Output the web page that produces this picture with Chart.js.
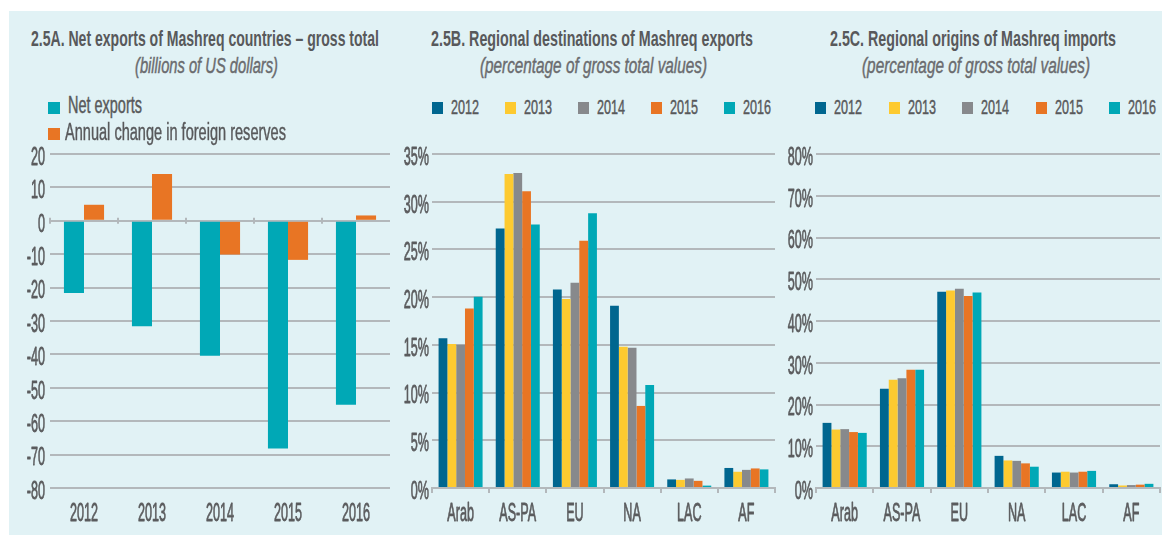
<!DOCTYPE html>
<html><head><meta charset="utf-8">
<script src="https://cdn.jsdelivr.net/npm/chart.js@4"></script>
<style>
html,body{margin:0;padding:0;background:#fff;width:1162px;height:535px;overflow:hidden;position:relative;}
#bg{position:absolute;left:9px;top:11px;width:1153px;height:524px;background:#e1f2f5;}
.t{position:absolute;white-space:nowrap;transform-origin:0 0;font-family:'Liberation Sans Narrow','Liberation Sans',sans-serif;color:#58595b;}
.t.reg{-webkit-text-stroke:0.45px currentColor;}
.sq{position:absolute;}
canvas{position:absolute;}
</style></head><body>
<div id="bg"></div>
<canvas id="ca" width="392" height="395" style="left:0;top:140px"></canvas>
<canvas id="cb" width="387" height="395" style="left:390px;top:140px"></canvas>
<canvas id="cc" width="387" height="395" style="left:775px;top:140px"></canvas>
<script>
// ---------- DATA ----------
const titleA = '2.5A. Net exports of Mashreq countries – gross total';
const subtitleA = '(billions of US dollars)';
const titleB = '2.5B. Regional destinations of Mashreq exports';
const subtitleB = '(percentage of gross total values)';
const titleC = '2.5C. Regional origins of Mashreq imports';
const subtitleC = '(percentage of gross total values)';

const yearsA = ['2012','2013','2014','2015','2016'];
const seriesNamesA = ['Net exports','Annual change in foreign reserves'];
const netExports = [-21.6,-31.6,-40.4,-68.2,-55.1];
const reserveChange = [4.8,14.0,-10.1,-11.7,1.6];
const ticksA = {min:-80, max:20, step:10};

const regions = ['Arab','AS-PA','EU','NA','LAC','AF'];
const seriesYears = ['2012','2013','2014','2015','2016'];

const exp2012 = [15.7,27.2,20.8,19.1,0.9,2.1];
const exp2013 = [15.1,32.9,19.8,14.8,0.85,1.7];
const exp2014 = [15.0,33.0,21.5,14.7,1.0,1.9];
const exp2015 = [18.8,31.1,25.9,8.6,0.75,2.05];
const exp2016 = [20.05,27.6,28.8,10.8,0.25,1.95];
const ticksB = {min:0, max:35, step:5};

const imp2012 = [15.6,23.8,47.0,7.7,3.7,0.9];
const imp2013 = [14.0,25.9,47.3,6.6,3.9,0.6];
const imp2014 = [14.1,26.3,47.7,6.5,3.7,0.7];
const imp2015 = [13.4,28.3,46.0,5.9,3.9,0.8];
const imp2016 = [13.2,28.3,46.8,5.1,4.1,1.0];
const ticksC = {min:0, max:80, step:10};

// ---------- STYLE ----------
const yearColors = ['#00668f','#fdca30','#87898c','#e87524','#00a8b6'];
const colorsA = ['#00a8b6','#e87524'];
const gridColor = '#b3b8bb';
const tickColor = '#5b5c5e';
const FONT = "'Liberation Sans Narrow','Liberation Sans',sans-serif";

// ---------- HTML TEXT ----------
function addText(txt, left, baseline, width, size, o){
  o = o || {};
  const el = document.createElement('div');
  el.className = 't' + (o.bold ? '' : ' reg'); el.textContent = txt;
  el.style.fontSize = size+'px'; el.style.lineHeight = size+'px';
  el.style.left = left+'px'; el.style.top = (baseline - 0.8465*size)+'px';
  if (o.bold) el.style.fontWeight = 'bold';
  if (o.italic) el.style.fontStyle = 'italic';
  if (o.color) el.style.color = o.color;
  document.body.appendChild(el);
  const nat = el.getBoundingClientRect().width;
  el.style.transform = 'scaleX(' + (width/nat) + ')';
}
function addSquare(left, top, w, h, color){
  const s = document.createElement('div'); s.className='sq';
  s.style.left=left+'px'; s.style.top=top+'px'; s.style.width=w+'px'; s.style.height=h+'px';
  s.style.background=color; document.body.appendChild(s);
}
addText(titleA, 31, 47, 348, 22, {bold:true});
addText(subtitleA, 135, 74, 143, 22, {italic:true, color:'#6a6b6e'});
addText(titleB, 431, 47, 322, 22, {bold:true});
addText(subtitleB, 480, 74, 227, 22, {italic:true, color:'#6a6b6e'});
addText(titleC, 830, 47, 286, 22, {bold:true});
addText(subtitleC, 862, 74, 228, 22, {italic:true, color:'#6a6b6e'});

addSquare(48, 102, 12, 12, colorsA[0]);
addText(seriesNamesA[0], 68, 113, 74, 23);
addSquare(48, 128, 12, 12, colorsA[1]);
addText(seriesNamesA[1], 65, 140, 221, 23);

seriesYears.forEach((y,i)=>{
  const xb = 432 + i*73.1, xc = 815 + i*73.5;
  addSquare(xb, 102, 11, 12, yearColors[i]);
  addText(y, xb+19, 114, 28, 20.5);
  addSquare(xc, 102, 11, 12, yearColors[i]);
  addText(y, xc+19, 114, 28, 20.5);
});

// ---------- CHART HELPERS ----------
const TICK_SIZE = 25;
const mc = document.createElement('canvas').getContext('2d');
mc.font = TICK_SIZE + 'px ' + FONT;
const SX = 28 / mc.measureText('2012').width;

const condense = {
  id:'condense',
  beforeDraw(chart){
    const ctx = chart.ctx;
    if (ctx.__cond) return;
    const orig = ctx.fillText;
    ctx.fillText = function(t, x, y, mw){
      this.save(); this.translate(x, y); this.scale(SX, 1);
      this.lineWidth = 0.8; this.strokeStyle = this.fillStyle; this.lineJoin = 'round';
      if (mw === undefined || mw === null) { orig.call(this, t, 0, 0); this.strokeText(t, 0, 0); }
      else { orig.call(this, t, 0, 0, mw/SX); this.strokeText(t, 0, 0, mw/SX); }
      this.restore();
    };
    ctx.__cond = true;
  }
};

const zeroTicks = {
  id:'zeroTicks',
  afterDatasetsDraw(chart){
    const xs = chart.scales.x, ys = chart.scales.y, ctx = chart.ctx;
    const step = xs.getPixelForValue(1) - xs.getPixelForValue(0);
    const y0 = ys.getPixelForValue(0);
    ctx.save(); ctx.strokeStyle = gridColor; ctx.lineWidth = 2;
    for (let i=0;i<xs.ticks.length;i++){
      const x = xs.getPixelForValue(i) - step/2;
      ctx.beginPath(); ctx.moveTo(x, y0-3); ctx.lineTo(x, y0+3); ctx.stroke();
    }
    ctx.restore();
  }
};

Chart.defaults.font.family = FONT;
Chart.defaults.color = tickColor;

function yScale(t, axisW, pad, fmt){
  return {
    min:t.min, max:t.max,
    ticks:{stepSize:t.step, padding:pad, labelOffset:4, font:{size:TICK_SIZE}, color:tickColor,
           callback:(v)=> fmt ? v+'%' : v},
    grid:{color:gridColor, lineWidth:2, drawTicks:false},
    border:{display:false},
    afterFit:(s)=>{ s.width = axisW; s.paddingTop = 0; s.paddingBottom = 0; }
  };
}
function xTicks(pad){
  return {padding:pad, font:{size:TICK_SIZE}, color:tickColor, maxRotation:0, minRotation:0, autoSkip:false};
}

// Panel A
new Chart(document.getElementById('ca'), {
  type:'bar',
  data:{labels:yearsA, datasets:[
    {label:seriesNamesA[0], data:netExports, backgroundColor:colorsA[0]},
    {label:seriesNamesA[1], data:reserveChange, backgroundColor:colorsA[1]}
  ]},
  options:{
    responsive:false, animation:false, devicePixelRatio:1,
    layout:{padding:{top:14, left:0, right:2, bottom:0}},
    datasets:{bar:{categoryPercentage:0.59, barPercentage:1, borderWidth:0}},
    plugins:{legend:{display:false}, tooltip:{enabled:false}},
    scales:{
      x:{grid:{display:false, drawTicks:false}, border:{display:false},
         ticks:xTicks(11),
         afterFit:(s)=>{ s.height = 47; s.paddingLeft = 0; s.paddingRight = 0; }},
      y:yScale(ticksA, 50, 5, false)
    }
  },
  plugins:[condense, zeroTicks]
});

function grouped(id, series, t, axisW){
  new Chart(document.getElementById(id), {
    type:'bar',
    data:{labels:regions, datasets:series.map((d,i)=>({label:seriesYears[i], data:d, backgroundColor:yearColors[i]}))},
    options:{
      responsive:false, animation:false, devicePixelRatio:1,
      layout:{padding:{top:14, left:0, right:2, bottom:0}},
      datasets:{bar:{categoryPercentage:0.77, barPercentage:1, borderWidth:0}},
      plugins:{legend:{display:false}, tooltip:{enabled:false}},
      scales:{
        x:{grid:{display:true, drawOnChartArea:false, drawTicks:true, tickLength:5, color:gridColor, lineWidth:2},
           border:{display:true, color:gridColor, width:2},
           ticks:xTicks(6),
           afterFit:(s)=>{ s.height = 47; s.paddingLeft = 0; s.paddingRight = 0; }},
        y:yScale(t, axisW, 3, true)
      }
    },
    plugins:[condense]
  });
}
grouped('cb', [exp2012,exp2013,exp2014,exp2015,exp2016], ticksB, 42);
grouped('cc', [imp2012,imp2013,imp2014,imp2015,imp2016], ticksC, 41);
</script>
</body></html>
